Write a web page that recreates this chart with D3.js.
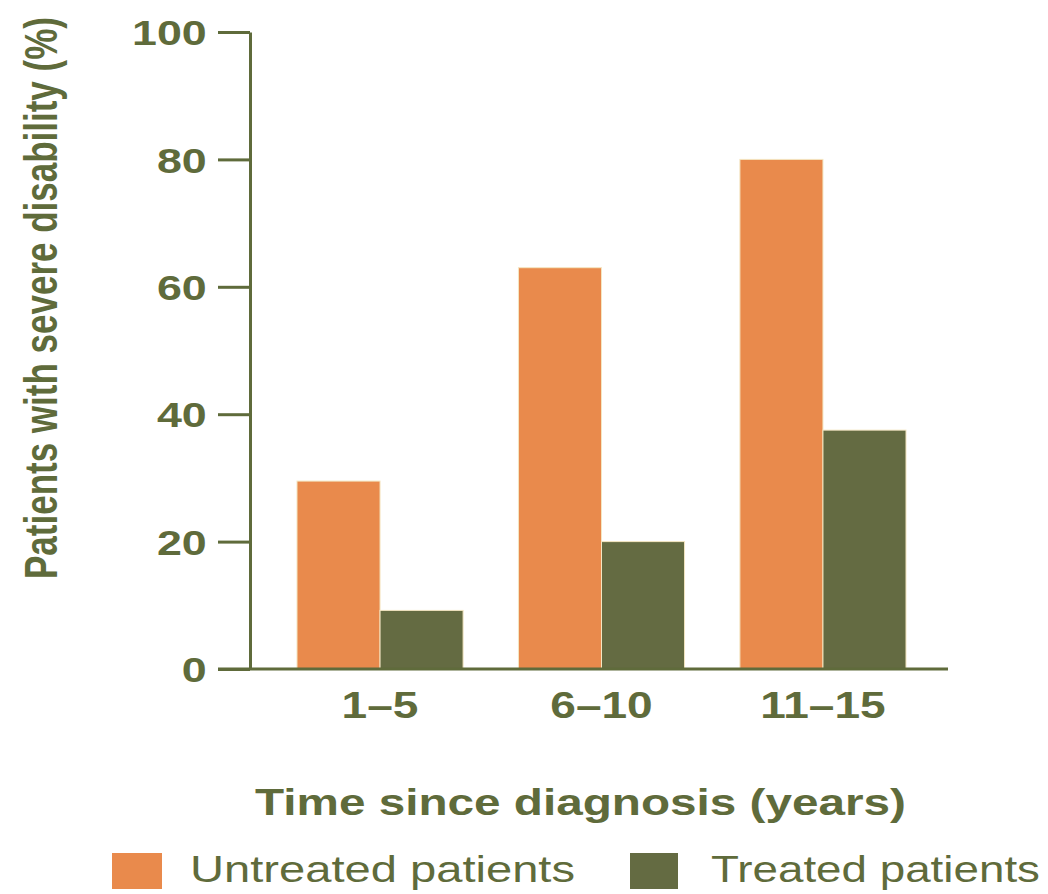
<!DOCTYPE html>
<html>
<head>
<meta charset="utf-8">
<script src="https://cdn.jsdelivr.net/npm/d3@7"></script>
<style>
  html, body { margin: 0; padding: 0; background: #ffffff; }
  svg text { font-family: "Liberation Sans", Arial, Helvetica, sans-serif; }
</style>
</head>
<body>
<svg id="chart" width="1048" height="894"></svg>
<script>
// ---- data ----
const categories = ["1\u20135", "6\u201310", "11\u201315"];
const seriesNames = ["Untreated patients", "Treated patients"];
const untreated = [29.5, 63, 80];
const treated = [9.2, 20, 37.5];
const yTicks = [0, 20, 40, 60, 80, 100];
const yLabel = "Patients with severe disability (%)";
const xLabel = "Time since diagnosis (years)";

// ---- styles ----
const colors = ["#E98A4C", "#646B42"];
const ink = "#5F6B3B";
const stretch = 1.28;

const svg = d3.select("#chart");

const y = d3.scaleLinear().domain([0, 100]).range([669, 32]);
const x = d3.scaleBand().domain(categories).range([297, 906]).paddingInner(0.25).paddingOuter(0);
const xs = d3.scaleBand().domain(seriesNames).range([0, x.bandwidth()]).padding(0);

const rows = categories.map((c, i) => ({ cat: c, values: [untreated[i], treated[i]] }));

// bars
const groups = svg.append("g").selectAll("g").data(rows).join("g")
  .attr("transform", d => `translate(${x(d.cat)},0)`);
groups.selectAll("rect").data(d => d.values.map((v, j) => ({ v, s: seriesNames[j], j })))
  .join("rect")
  .attr("x", d => xs(d.s))
  .attr("width", xs.bandwidth())
  .attr("y", d => y(d.v))
  .attr("height", d => y(0) - y(d.v))
  .attr("fill", d => colors[d.j])
  .attr("stroke", "#f4e6c2")
  .attr("stroke-width", 1);

// y axis
const yAxis = svg.append("g").attr("transform", "translate(250,0)")
  .call(d3.axisLeft(y).tickValues(yTicks).tickSize(32).tickSizeOuter(0).tickPadding(1.8));
yAxis.select(".domain").attr("stroke", ink).attr("stroke-width", 3);
yAxis.selectAll(".tick line").attr("stroke", ink).attr("stroke-width", 3);
yAxis.selectAll(".tick text")
  .attr("fill", ink).attr("font-size", 35).attr("font-weight", "bold")
  .attr("dy", "0.36em")
  .attr("transform", `scale(${stretch},1)`);

// x baseline
svg.append("line")
  .attr("x1", 218).attr("x2", 948)
  .attr("y1", y(0)).attr("y2", y(0))
  .attr("stroke", ink).attr("stroke-width", 3);

// x axis labels
const xAxis = svg.append("g").attr("transform", `translate(0,${y(0)})`)
  .call(d3.axisBottom(x).tickSize(0).tickPadding(23));
xAxis.select(".domain").remove();
xAxis.selectAll(".tick text")
  .attr("fill", ink).attr("font-size", 36).attr("font-weight", "bold")
  .attr("transform", `scale(${stretch},1)`);

// y label
svg.append("text")
  .attr("transform", `translate(57,298) scale(1.3,1) rotate(-90)`)
  .attr("text-anchor", "middle")
  .attr("fill", ink).attr("font-size", 35).attr("font-weight", "bold")
  .text(yLabel);

// x label
svg.append("text")
  .attr("x", 255).attr("y", 815)
  .attr("textLength", 651).attr("lengthAdjust", "spacingAndGlyphs")
  .attr("fill", ink).attr("font-size", 36).attr("font-weight", "bold")
  .text(xLabel);

// legend
const legendItems = [
  { name: seriesNames[0], color: colors[0], sx: 112, sw: 50, tx: 190, tl: 385 },
  { name: seriesNames[1], color: colors[1], sx: 630, sw: 48, tx: 711, tl: 329 }
];
const lg = svg.append("g");
legendItems.forEach(it => {
  lg.append("rect").attr("x", it.sx).attr("y", 853).attr("width", it.sw).attr("height", 36)
    .attr("fill", it.color);
  lg.append("text").attr("x", it.tx).attr("y", 882)
    .attr("textLength", it.tl).attr("lengthAdjust", "spacingAndGlyphs")
    .attr("fill", ink).attr("font-size", 37)
    .text(it.name);
});
</script>
</body>
</html>
